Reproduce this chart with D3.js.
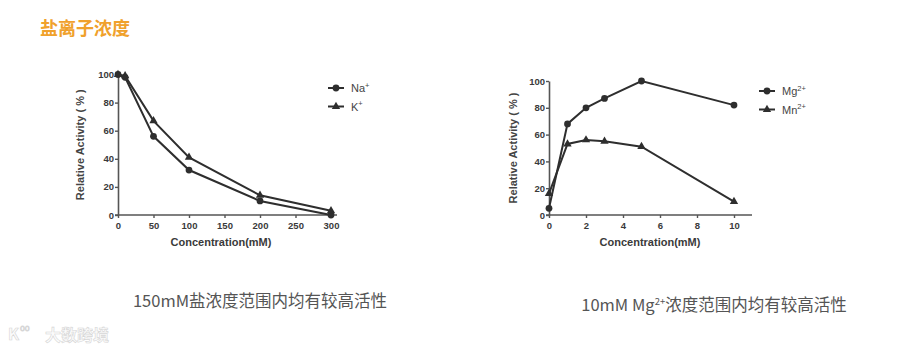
<!DOCTYPE html>
<html>
<head>
<meta charset="utf-8">
<script src="https://cdn.jsdelivr.net/npm/d3@7"></script>
<style>
  body { margin: 0; background: #fff; }
</style>
</head>
<body>
<div id="graph"></div>
<script>

// salt ions (left chart)
const saltConc = [0, 10, 50, 100, 200, 300];
const naValues = [100, 98, 56, 32, 10, 0];
const kValues  = [100, 99, 67, 41, 14, 3];
const saltTicks = [0, 50, 100, 150, 200, 250, 300];

// metal ions (right chart)
const metalConc = [0, 1, 2, 3, 5, 10];
const mgValues  = [5, 68, 80, 87, 100, 82];
const mnValues  = [16, 53, 56, 55, 51, 10];
const metalTicks = [0, 2, 4, 6, 8, 10];

const yTicks = [0, 20, 40, 60, 80, 100];

const title = "盐离子浓度";
const captionLeft = "150mM盐浓度范围内均有较高活性";

const W = 900, H = 353;
const svg = d3.select("#graph").append("svg")
    .attr("width", W).attr("height", H)
    .style("font-family", "'Noto Sans CJK SC', 'Noto Sans', sans-serif");

svg.append("rect").attr("width", W).attr("height", H).attr("fill", "#fff");

// title
svg.append("text")
    .attr("x", 40).attr("y", 35)
    .attr("fill", "#f0a12c")
    .attr("font-size", 18)
    .attr("font-weight", "bold")
    .text(title);

const ink = "#2e2e2e";
const sans = "'Liberation Sans', Arial, sans-serif";

function drawChart(opt) {
    const g = svg.append("g");
    const x = d3.scaleLinear().domain(opt.xDomain).range(opt.xRange);
    const y = d3.scaleLinear().domain([0, 100]).range(opt.yRange);

    // y axis
    const yAxis = g.append("g")
        .attr("transform", `translate(${opt.xRange[0]},0)`)
        .call(d3.axisLeft(y).tickValues(yTicks).tickSize(3).tickSizeOuter(0));
    // x axis
    const xAxis = g.append("g")
        .attr("transform", `translate(0,${opt.yRange[0]})`)
        .call(d3.axisBottom(x).tickValues(opt.xTicks).tickSize(3).tickSizeOuter(0));

    [xAxis, yAxis].forEach(a => {
        a.select(".domain").attr("stroke", "#555").attr("stroke-width", 1.6);
        a.selectAll(".tick line").attr("stroke", "#555").attr("stroke-width", 1.4);
        a.selectAll(".tick text")
            .attr("fill", "#3a3a3a")
            .attr("font-family", sans)
            .attr("font-weight", "bold")
            .attr("font-size", 9.5);
    });
    yAxis.selectAll(".tick text").attr("x", -4);
    // extend x axis domain a little on both ends
    xAxis.select(".domain")
        .attr("d", `M${opt.xRange[0] - 3},0H${opt.axisEnd}`);
    xAxis.selectAll(".tick text").attr("dy", "0.85em");

    // axis titles
    g.append("text")
        .attr("x", opt.xLabelX)
        .attr("y", opt.yRange[0] + 31)
        .attr("text-anchor", "middle")
        .attr("fill", "#3a3a3a")
        .attr("font-family", sans)
        .attr("font-weight", "bold")
        .attr("font-size", 11)
        .text("Concentration(mM)");
    g.append("text")
        .attr("transform", `translate(${opt.yLabelX},${(opt.yRange[0] + opt.yRange[1]) / 2}) rotate(-90)`)
        .attr("text-anchor", "middle")
        .attr("fill", "#444")
        .attr("font-family", sans)
        .attr("font-weight", "bold")
        .attr("font-size", 11)
        .text("Relative Activity ( % )");

    const line = d3.line().x(d => x(d[0])).y(d => y(d[1]));

    opt.series.forEach((s, i) => {
        const pts = opt.conc.map((c, j) => [c, s.values[j]]);
        g.append("path")
            .datum(pts)
            .attr("fill", "none")
            .attr("stroke", ink)
            .attr("stroke-width", 2)
            .attr("d", line);
        const sym = d3.symbol()
            .type(s.shape === "circle" ? d3.symbolCircle : d3.symbolTriangle)
            .size(s.shape === "circle" ? 36 : 30);
        g.selectAll(null)
            .data(pts)
            .join("path")
            .attr("transform", d => `translate(${x(d[0])},${y(d[1])})`)
            .attr("d", sym)
            .attr("fill", ink);

        // legend
        const ly = opt.legendY + i * 18.5;
        g.append("line")
            .attr("x1", opt.legendX).attr("x2", opt.legendX + 16)
            .attr("y1", ly).attr("y2", ly)
            .attr("stroke", ink).attr("stroke-width", 2);
        g.append("path")
            .attr("transform", `translate(${opt.legendX + 8},${ly})`)
            .attr("d", sym)
            .attr("fill", ink);
        const t = g.append("text")
            .attr("x", opt.legendX + 23).attr("y", ly + 4)
            .attr("fill", "#444")
            .attr("font-family", sans)
            .attr("font-size", 11);
        t.append("tspan").text(s.name);
        t.append("tspan").attr("dy", -4.5).attr("font-size", 7.5).text(s.sup);
    });
}

drawChart({
    xDomain: [0, 300], xRange: [118, 331], yRange: [215, 74.5],
    axisEnd: 337, xTicks: saltTicks, yLabelX: 84, xLabelX: 221,
    conc: saltConc,
    series: [
        {name: "Na", sup: "+", values: naValues, shape: "circle"},
        {name: "K", sup: "+", values: kValues, shape: "triangle"}
    ],
    legendX: 328, legendY: 88
});

drawChart({
    xDomain: [0, 10], xRange: [549, 734], yRange: [215, 81],
    axisEnd: 752, xTicks: metalTicks, yLabelX: 517, xLabelX: 650,
    conc: metalConc,
    series: [
        {name: "Mg", sup: "2+", values: mgValues, shape: "circle"},
        {name: "Mn", sup: "2+", values: mnValues, shape: "triangle"}
    ],
    legendX: 759, legendY: 91
});

// captions
svg.append("text")
    .attr("x", 260).attr("y", 307)
    .attr("text-anchor", "middle")
    .attr("fill", "#555")
    .attr("font-size", 16.5)
    .text(captionLeft);

const cap2 = svg.append("text")
    .attr("x", 714).attr("y", 311)
    .attr("text-anchor", "middle")
    .attr("fill", "#555")
    .attr("font-size", 16.5);
cap2.append("tspan").text("10mM Mg");
cap2.append("tspan").attr("dy", -6).attr("font-size", 9.5).text("2+");
cap2.append("tspan").attr("dy", 6).text("浓度范围内均有较高活性");

// faint watermark bottom-left
const wm = svg.append("g").attr("opacity", 0.6);
wm.append("text")
    .attr("x", 8).attr("y", 340)
    .attr("fill", "#fafafa")
    .attr("stroke", "#bbb").attr("stroke-width", 0.6)
    .attr("font-size", 16).attr("font-weight", "bold")
    .text("K");
wm.append("text")
    .attr("x", 20).attr("y", 331)
    .attr("fill", "none")
    .attr("stroke", "#bbb").attr("stroke-width", 0.8)
    .attr("font-size", 8)
    .text("oo");
wm.append("text")
    .attr("x", 45).attr("y", 341)
    .attr("fill", "#fafafa")
    .attr("stroke", "#bbb").attr("stroke-width", 0.6)
    .attr("font-size", 16).attr("font-weight", "bold")
    .text("大数跨境");

</script>
</body>
</html>
